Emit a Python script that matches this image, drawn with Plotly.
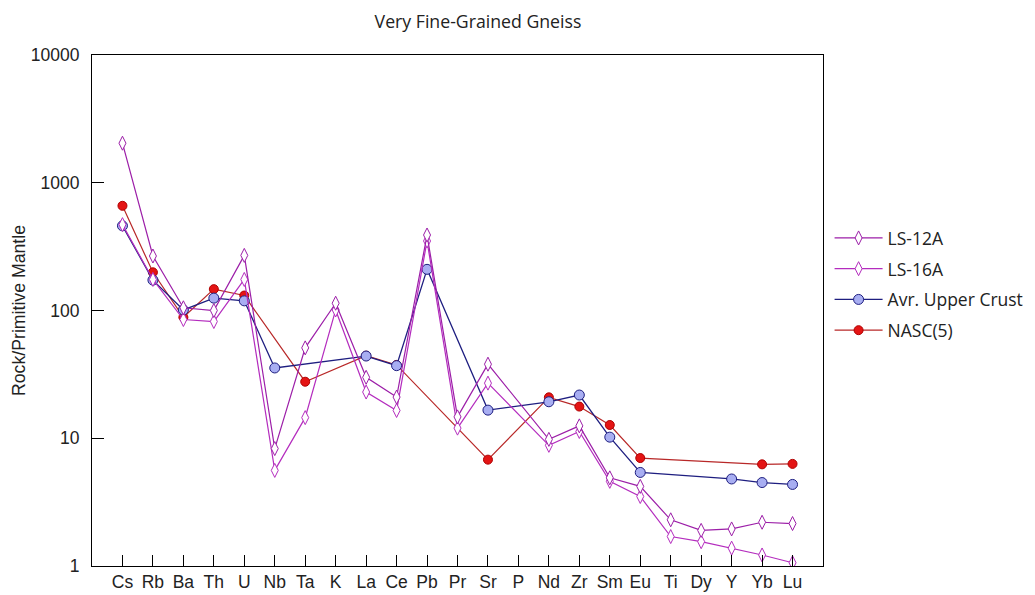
import plotly.graph_objects as go

# Trace elements, normalised to primitive mantle
elements = ["Cs", "Rb", "Ba", "Th", "U", "Nb", "Ta", "K", "La", "Ce", "Pb", "Pr",
            "Sr", "P", "Nd", "Zr", "Sm", "Eu", "Ti", "Dy", "Y", "Yb", "Lu"]

ls_12a = [2040, 267, 105, 100, 270, 8.3, 51, 114, 30, 21, 390, 14.7,
          38, None, 9.8, 12.5, 4.9, 4.2, 2.3, 1.9, 1.95, 2.2, 2.15]
ls_16a = [470, 175, 85, 82, 175, 5.6, 14.5, 101, 23, 16.5, 350, 12,
          27, None, 8.8, 11.3, 4.6, 3.5, 1.7, 1.55, 1.38, 1.22, 1.06]
upper_crust = [460, 173, 101, 125, 119, 35.5, None, None, 44, 37, 210, None,
               16.6, None, 19.3, 21.8, 10.2, 5.4, None, None, 4.8, 4.5, 4.35]
nasc = [660, 199, 88.5, 147, 131, None, 27.7, None, 44.3, 37.5, None, None,
        6.8, None, 20.9, 17.7, 12.7, 7.0, None, None, None, 6.25, 6.3]

y_ticks = [1, 10, 100, 1000, 10000]

fig = go.Figure()

# NASC and upper crust drawn first so the sample patterns sit on top
fig.add_trace(go.Scatter(
    x=elements, y=nasc, name="NASC(5)", mode="lines+markers", connectgaps=True,
    line=dict(color="#B82828", width=1.2),
    marker=dict(symbol="circle", size=9, color="#E41414",
                line=dict(color="#B00000", width=1)),
    legendrank=4, legendgroup="d",
))
fig.add_trace(go.Scatter(
    x=elements, y=upper_crust, name="Avr. Upper Crust", mode="lines+markers",
    connectgaps=True,
    line=dict(color="#1E1E80", width=1.3),
    marker=dict(symbol="circle", size=10, color="#A8AEF2",
                line=dict(color="#1E1E80", width=1)),
    legendrank=3, legendgroup="c",
))
fig.add_trace(go.Scatter(
    x=elements, y=ls_16a, name="LS-16A", mode="lines+markers", connectgaps=True,
    line=dict(color="#B42CBE", width=1.2),
    marker=dict(symbol="diamond-tall", size=10, color="white",
                line=dict(color="#B42CBE", width=1)),
    legendrank=2, legendgroup="b",
))
fig.add_trace(go.Scatter(
    x=elements, y=ls_12a, name="LS-12A", mode="lines+markers", connectgaps=True,
    line=dict(color="#9C1EA8", width=1.2),
    marker=dict(symbol="diamond-tall", size=10, color="white",
                line=dict(color="#9C1EA8", width=1)),
    legendrank=1, legendgroup="a",
))

fig.update_layout(
    width=1035, height=595,
    margin=dict(l=92, r=212, t=55, b=29, autoexpand=False),
    paper_bgcolor="white", plot_bgcolor="white",
    title=dict(text="Very Fine-Grained Gneiss", x=478 / 1035, xanchor="center",
               y=1 - 22 / 595, yanchor="middle",
               font=dict(family="Open Sans", size=17.7, color="#222222")),
    showlegend=True,
    legend=dict(x=1.009, xanchor="left", y=0.677, yanchor="top",
                traceorder="grouped", tracegroupgap=5,
                font=dict(family="Open Sans", size=17.5, color="#222222"),
                bgcolor="rgba(0,0,0,0)", itemwidth=48),
    xaxis=dict(
        type="category", categoryorder="array", categoryarray=elements,
        range=[-1, 23], showgrid=False, zeroline=False, automargin=False,
        showline=True, linecolor="black", linewidth=1, mirror=True,
        ticks="inside", ticklen=11, tickcolor="black",
        tickfont=dict(family="Liberation Sans", size=17.5, color="#222222"),
    ),
    yaxis=dict(
        type="log", range=[0, 4], showgrid=False, zeroline=False, automargin=False,
        tickvals=y_ticks, ticktext=[str(v) for v in y_ticks],
        showline=True, linecolor="black", linewidth=1, mirror=True,
        ticks="inside", ticklen=12, tickcolor="black",
        tickfont=dict(family="Liberation Sans", size=17.5, color="#222222"),
        ticklabelstandoff=8,
        title=dict(text="Rock/Primitive Mantle", standoff=0,
                   font=dict(family="Liberation Sans", size=17.7, color="#222222")),
    ),
)

fig.write_html("out.html")
